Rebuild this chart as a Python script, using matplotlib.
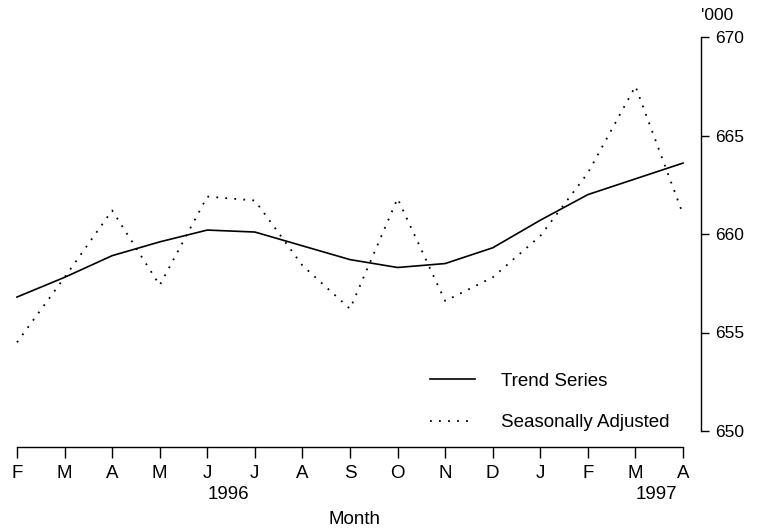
import matplotlib
matplotlib.use('Agg')
import matplotlib.pyplot as plt

plt.rcParams['font.family'] = ['Liberation Sans', 'DejaVu Sans']

# data (thousands), Feb 1996 - Apr 1997
months = ['F', 'M', 'A', 'M', 'J', 'J', 'A', 'S', 'O', 'N', 'D', 'J', 'F', 'M', 'A']
trend = [656.8, 657.8, 658.9, 659.6, 660.2, 660.1, 659.4, 658.7, 658.3, 658.5,
         659.3, 660.7, 662.0, 662.8, 663.6]
seas_adj = [654.5, 657.8, 661.2, 657.4, 661.9, 661.7, 658.4, 656.2, 661.8, 656.6,
            657.8, 659.9, 663.1, 667.5, 661.0]
years = {'1996': 4, '1997': 13}
yticks = [650, 655, 660, 665, 670]

W, H = 759, 532
fig = plt.figure(figsize=(W / 100, H / 100), dpi=100)
left, right, top, bottom = 17, 701, 37, 447
ax = fig.add_axes([left / W, 1 - bottom / H, (right - left) / W, (bottom - top) / H])

x = list(range(len(months)))
ax.plot(x, trend, color='black', lw=1.2, label='Trend Series', clip_on=False)
ax.plot(x, seas_adj, color='black', lw=1.3, linestyle=(0, (1, 4)),
        label='Seasonally Adjusted', clip_on=False)

ax.set_xlim(0, 14 + 18 / 47.6)
ax.set_ylim(650 - 16 / 19.7, 670)

# spines
ax.spines['left'].set_visible(False)
ax.spines['top'].set_visible(False)
ax.spines['bottom'].set_bounds(0, 14)
ax.spines['right'].set_bounds(650, 670)
for s in ('bottom', 'right'):
    ax.spines[s].set_linewidth(1.0)

ax.set_xticks(x)
ax.set_xticklabels(months, fontsize=13.5)
ax.tick_params(axis='x', direction='out', length=8, width=1, pad=5)

ax.yaxis.tick_right()
ax.set_yticks(yticks)
ax.set_yticklabels([str(v) for v in yticks], fontsize=12.5)
ax.tick_params(axis='y', direction='out', length=6, width=1, pad=4)

for yr, pos in years.items():
    ax.annotate(yr, xy=(pos, 0), xycoords=('data', 'axes fraction'),
                xytext=(0, -28), textcoords='offset points', ha='left', va='top',
                fontsize=13.5)

ax.annotate("'000", xy=(1, 1), xycoords='axes fraction', xytext=(0, 10),
            textcoords='offset points', ha='left', va='bottom', fontsize=12.5)

fig.text(355 / W, 1 - 519 / H, 'Month', ha='center', va='center', fontsize=13.5)

ax.legend(loc='center left', bbox_to_anchor=(430 / W, 1 - 402 / H),
          bbox_transform=fig.transFigure, frameon=False, borderpad=0,
          borderaxespad=0, fontsize=13.5, handlelength=2.4, handletextpad=1.4,
          labelspacing=1.3)

fig.savefig('out.png', dpi=100)
